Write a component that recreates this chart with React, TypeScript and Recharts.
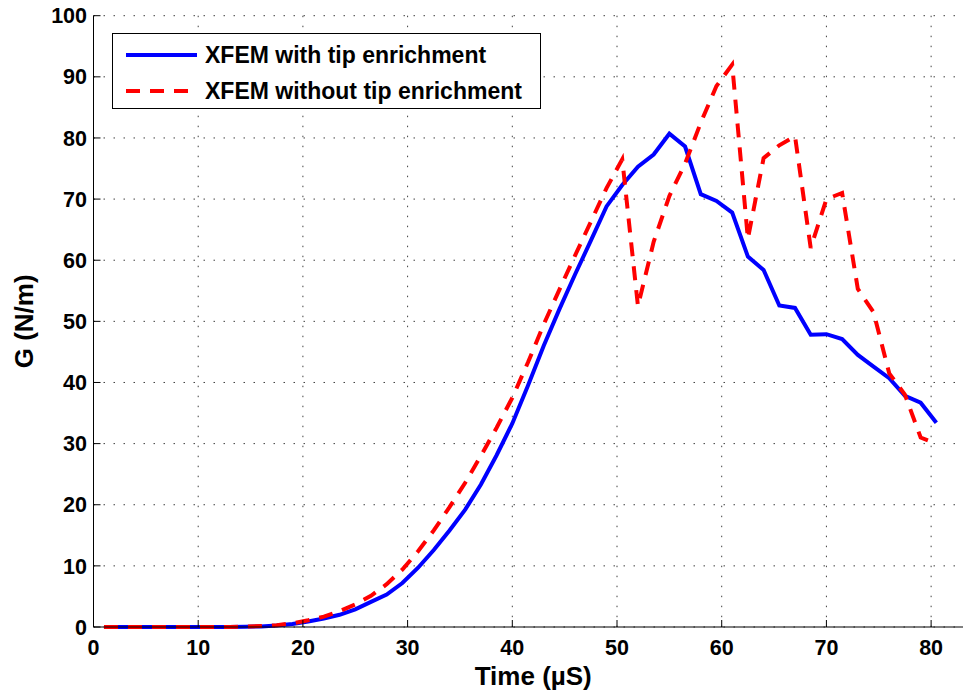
import { LineChart, Line, XAxis, YAxis, CartesianGrid, Legend } from "recharts";

// time samples (µS)
const times = [
  1, 2.5, 4, 5.5, 7, 8.5, 10, 11.5, 13, 14.5,
  16, 17.5, 19, 20.5, 22, 23.5, 25, 26.5, 28, 29.5,
  31, 32.5, 34, 35.5, 37, 38.5, 40, 41.5, 43, 44.5,
  46, 47.5, 49, 50.5, 52, 53.5, 55, 56.5, 58, 59.5,
  61, 62.5, 64, 65.5, 67, 68.5, 70, 71.5, 73, 74.5,
  76, 77.5, 79, 80.5,
];

// G (N/m), XFEM with tip enrichment
const withTip = [
  0, 0, 0, 0, 0, 0, 0, 0, 0.02, 0.05,
  0.1, 0.25, 0.5, 0.9, 1.4, 2.0, 2.9, 4.1, 5.3, 7.2,
  9.7, 12.6, 15.8, 19.2, 23.3, 28.1, 33.3, 39.5, 46.0, 52.0,
  57.7, 63.2, 68.8, 72.3, 75.3, 77.3, 80.7, 78.6, 70.8, 69.7,
  67.8, 60.6, 58.4, 52.6, 52.2, 47.8, 47.9, 47.1, 44.5, 42.6,
  40.7, 37.8, 36.7, 33.4,
];

// G (N/m), XFEM without tip enrichment
const withoutTip = [
  0, 0, 0, 0, 0, 0, 0, 0, 0.02, 0.05,
  0.15, 0.3, 0.6, 1.1, 1.7, 2.6, 3.7, 5.1, 7.0, 9.4,
  12.4, 15.8, 19.6, 23.6, 28.0, 32.6, 37.5, 43.3, 49.5, 55.2,
  60.8, 66.3, 71.8, 76.5, 52.5, 63.0, 70.5, 75.8, 82.5, 88.5,
  92.0, 63.5, 76.7, 78.8, 80.3, 62.0, 70.0, 71.0, 55.3, 51.5,
  41.5, 38.0, 31.0, 30.0,
];

const xTicks = [0, 10, 20, 30, 40, 50, 60, 70, 80];
const yTicks = [0, 10, 20, 30, 40, 50, 60, 70, 80, 90, 100];

const seriesNames = ["XFEM with tip enrichment", "XFEM without tip enrichment"];

const data = times.map((t, i) => ({
  t,
  withTip: withTip[i],
  withoutTip: withoutTip[i],
}));

const FONT = '"Liberation Sans", Arial, Helvetica, sans-serif';

function LegendBox() {
  const rows = [
    { name: seriesNames[0], color: "#0000ff", dash: undefined as string | undefined },
    { name: seriesNames[1], color: "#ff0000", dash: "14 10" },
  ];
  return (
    <div
      style={{
        position: "relative",
        width: 427,
        height: 74,
        border: "1px solid #000",
        background: "#fff",
        fontFamily: FONT,
        fontWeight: "bold",
        fontSize: 23,
        color: "#000",
      }}
    >
      {rows.map((r, i) => (
        <div
          key={r.name}
          style={{ position: "absolute", left: 0, top: i === 0 ? 7 : 43, height: 28, width: 427 }}
        >
          <svg width={72} height={28} style={{ position: "absolute", left: 13, top: 0 }}>
            <line x1={0} y1={14} x2={71} y2={14} stroke={r.color} strokeWidth={4} strokeDasharray={r.dash} />
          </svg>
          <span style={{ position: "absolute", left: 92, top: 0, lineHeight: "28px", whiteSpace: "nowrap" }}>
            {r.name}
          </span>
        </div>
      ))}
    </div>
  );
}

export default function App() {
  const tickStyle = { fill: "#000", fontSize: 21.5, fontWeight: "bold" as const, fontFamily: FONT };
  return (
    <div
      style={{
        position: "absolute",
        left: 0,
        top: 0,
        width: 963,
        height: 697,
        overflow: "hidden",
        background: "#fff",
      }}
    >
      <LineChart
        width={973}
        height={697}
        data={data}
        margin={{ top: 15.7, right: 0, left: 0, bottom: 0 }}
      >
        <CartesianGrid stroke="#404040" strokeDasharray="1.5 8.5" />
        <XAxis
          dataKey="t"
          type="number"
          domain={[0, 84]}
          ticks={xTicks}
          allowDataOverflow
          height={70}
          stroke="#000"
          tickSize={-7}
          tickMargin={20}
          tick={tickStyle}
          label={{
            content: (props: any) => {
              const vb = props.viewBox || {};
              return (
                <text
                  x={vb.x + vb.width / 2}
                  y={vb.y + 58}
                  textAnchor="middle"
                  fontFamily={FONT}
                  fontWeight="bold"
                  fontSize={26}
                  fill="#000"
                >
                  Time (µS)
                </text>
              );
            },
          }}
        />
        <XAxis
          xAxisId="top"
          orientation="top"
          dataKey="t"
          type="number"
          domain={[0, 84]}
          ticks={xTicks}
          allowDataOverflow
          height={0}
          stroke="#000"
          tickSize={-7}
          tickFormatter={() => ""}
        />
        <YAxis
          type="number"
          domain={[0, 100]}
          ticks={yTicks}
          width={93.5}
          stroke="#000"
          tickSize={-7}
          tickMargin={13.5}
          tick={tickStyle}
          label={{
            content: (props: any) => {
              const vb = props.viewBox || {};
              const cy = vb.y + vb.height / 2;
              return (
                <text
                  x={24}
                  y={cy}
                  dy="0.36em"
                  transform={`rotate(-90, 24, ${cy})`}
                  textAnchor="middle"
                  fontFamily={FONT}
                  fontWeight="bold"
                  fontSize={26}
                  fill="#000"
                >
                  G (N/m)
                </text>
              );
            },
          }}
        />
        <Legend
          layout="vertical"
          align="center"
          verticalAlign="middle"
          wrapperStyle={{ left: 112, top: 33 }}
          content={() => <LegendBox />}
        />
        <Line
          name={seriesNames[0]}
          type="linear"
          dataKey="withTip"
          stroke="#0000ff"
          strokeWidth={4}
          dot={false}
          activeDot={false}
          isAnimationActive={false}
        />
        <Line
          name={seriesNames[1]}
          type="linear"
          dataKey="withoutTip"
          stroke="#ff0000"
          strokeWidth={4}
          strokeDasharray="14 10"
          dot={false}
          activeDot={false}
          isAnimationActive={false}
        />
      </LineChart>
    </div>
  );
}
